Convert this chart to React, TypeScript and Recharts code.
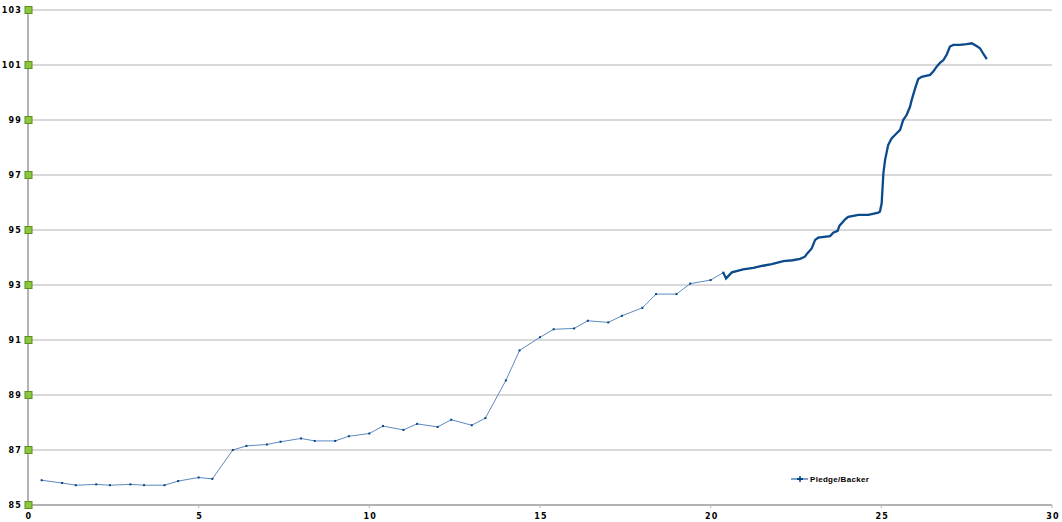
import React from 'react';
import { LineChart, Line, XAxis, YAxis, CartesianGrid } from 'recharts';

// early, sparse readings (days, pledge per backer)
const sparseX = [
  0.4, 1.0, 1.4, 2.0, 2.4, 3.0, 3.4, 4.0, 4.4, 5.0, 5.4, 6.0, 6.4, 7.0, 7.4, 8.0, 8.4, 9.0, 9.4,
  10.0, 10.4, 11.0, 11.4, 12.0, 12.4, 13.0, 13.4, 14.0, 14.4, 15.0, 15.4, 16.0, 16.4, 17.0, 17.4,
  18.0, 18.4, 19.0, 19.4, 20.0, 20.37,
];
const sparseY = [
  85.9, 85.8, 85.72, 85.75, 85.72, 85.75, 85.72, 85.72, 85.87, 86.0, 85.95, 87.0, 87.15, 87.2, 87.3,
  87.42, 87.33, 87.33, 87.5, 87.6, 87.87, 87.73, 87.95, 87.84, 88.1, 87.9, 88.16, 89.53, 90.62,
  91.1, 91.39, 91.42, 91.7, 91.64, 91.88, 92.17, 92.67, 92.67, 93.05, 93.18, 93.45,
];

// later, dense readings
const denseX = [
  20.37, 20.45, 20.62, 20.95, 21.25, 21.53, 21.79, 22.13, 22.4, 22.62, 22.76, 22.83, 22.96, 23.06,
  23.15, 23.5, 23.59, 23.72, 23.77, 23.94, 24.03, 24.33, 24.62, 24.91, 24.96, 25.01, 25.06, 25.11,
  25.2, 25.3, 25.45, 25.55, 25.64, 25.74, 25.84, 25.89, 25.99, 26.08, 26.18, 26.43, 26.52, 26.62,
  26.72, 26.82, 26.92, 27.01, 27.11, 27.3, 27.5, 27.65, 27.79, 27.89, 27.99, 28.09,
];
const denseY = [
  93.45, 93.24, 93.46, 93.57, 93.62, 93.7, 93.76, 93.87, 93.9, 93.95, 94.03, 94.15, 94.33, 94.64,
  94.72, 94.78, 94.9, 94.97, 95.15, 95.39, 95.48, 95.55, 95.55, 95.63, 95.67, 95.97, 97.06, 97.55,
  98.09, 98.33, 98.52, 98.64, 99.0, 99.18, 99.48, 99.73, 100.15, 100.49, 100.57, 100.64, 100.76,
  100.94, 101.08, 101.18, 101.39, 101.67, 101.73, 101.73, 101.76, 101.79, 101.69, 101.61, 101.4,
  101.21,
];

const xTicks = [0, 5, 10, 15, 20, 25, 30];
const yTicks = [85, 87, 89, 91, 93, 95, 97, 99, 101, 103];

const sparseData = sparseX.map((x, i) => ({ x, y: sparseY[i] }));
const denseData = denseX.map((x, i) => ({ x, y: denseY[i] }));

const FONT = '"DejaVu Sans", sans-serif';
const GRID = '#b3b3b3';
const BLUE = '#004586';

const YTick = (props: any) => {
  const { x, y, payload } = props;
  return (
    <g>
      <text
        x={x - 6}
        y={y + 3}
        textAnchor="end"
        fontFamily={FONT}
        fontSize={8}
        fontWeight="bold"
        letterSpacing={1.2}
        fill="#000"
      >
        {payload.value}
      </text>
      <rect x={x - 3} y={y - 3.5} width={7} height={7} fill="#8cc63f" stroke="#5a8f1e" strokeWidth={1} />
    </g>
  );
};

const XTick = (props: any) => {
  const { x, y, payload } = props;
  return (
    <text
      x={x + 1}
      y={y + 9}
      textAnchor="middle"
      fontFamily={FONT}
      fontSize={8}
      fontWeight="bold"
      letterSpacing={1.2}
      fill="#000"
    >
      {payload.value}
    </text>
  );
};

const smallDot = (p: any) => (
  <rect key={`d-${p.index}`} x={p.cx - 1} y={p.cy - 1} width={2} height={2} fill={BLUE} />
);

const LegendBox = () => (
  <svg width={90} height={14} style={{ position: 'absolute', left: 791, top: 472 }}>
    <line x1={0} y1={7} x2={17} y2={7} stroke="#7fa3cb" strokeWidth={2} />
    <line x1={6} y1={7} x2={12} y2={7} stroke={BLUE} strokeWidth={2} />
    <line x1={9} y1={4} x2={9} y2={10} stroke={BLUE} strokeWidth={1.5} />
    <text
      x={19}
      y={10}
      fontFamily='"Liberation Sans", sans-serif'
      fontSize={8}
      fontWeight="bold"
      letterSpacing={0.3}
      fill="#000"
    >
      Pledge/Backer
    </text>
  </svg>
);

export default function App() {
  return (
    <div style={{ position: 'absolute', left: 0, top: 0, width: 1062, height: 522, background: '#fff' }}>
      <LineChart width={1062} height={522} margin={{ top: 10, right: 10, bottom: 0, left: 0 }}>
        <CartesianGrid horizontal vertical={false} stroke={GRID} strokeWidth={1} />
        <XAxis
          type="number"
          dataKey="x"
          domain={[0, 30]}
          ticks={xTicks}
          height={17}
          axisLine={{ stroke: GRID, strokeWidth: 2 }}
          tickLine={{ stroke: GRID }}
          tickSize={3}
          tick={<XTick />}
          allowDataOverflow
        />
        <YAxis
          type="number"
          domain={[85, 103]}
          ticks={yTicks}
          width={28}
          axisLine={{ stroke: GRID, strokeWidth: 2 }}
          tickLine={false}
          tickSize={0}
          tickMargin={0}
          tick={<YTick />}
          allowDataOverflow
        />
        <Line
          data={sparseData}
          dataKey="y"
          name="Pledge/Backer"
          stroke="#5d8abd"
          strokeWidth={1}
          dot={smallDot}
          activeDot={false}
          isAnimationActive={false}
        />
        <Line
          data={denseData}
          dataKey="y"
          name="Pledge/Backer dense"
          legendType="none"
          stroke="#0b4a8b"
          strokeWidth={2.3}
          dot={false}
          activeDot={false}
          isAnimationActive={false}
        />
      </LineChart>
      <LegendBox />
    </div>
  );
}
